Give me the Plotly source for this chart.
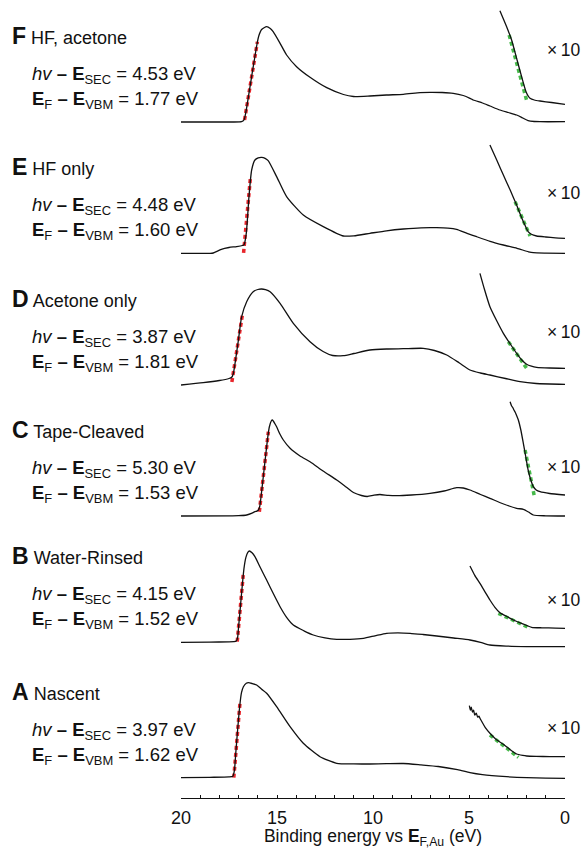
import plotly.graph_objects as go

# Photon energy of the He I source (eV); E_SEC = HV - (hv - E_SEC)
HV = 21.22

# Panel identity, bottom to top
letters = ["A", "B", "C", "D", "E", "F"]
names = ["Nascent", "Water-Rinsed", "Tape-Cleaved", "Acetone only", "HF only", "HF, acetone"]
sec_values = [3.97, 4.15, 5.30, 3.87, 4.48, 4.53]   # hv - E_SEC (eV)
vbm_values = [1.62, 1.52, 1.53, 1.81, 1.60, 1.77]   # E_F - E_VBM (eV)

# ---- A: Nascent ----
A_main_E = [20, 18.5, 17.5, 17.3, 17.22, 17.15, 17.05, 16.95, 16.85, 16.75, 16.6, 16.49, 16.3, 16.06, 15.8, 15.54,
            15.02, 14.32, 13.63, 12.76, 11.89, 11.0, 10.16, 9.3, 8.42, 7.5, 6.6, 5.6, 4.95, 4.3, 3.04, 2.0, 1.0, 0]
A_main_I = [0, 0.4, 0.8, 1.5, 7, 24, 48, 70, 85, 91, 94.5, 95, 94.2, 92.7, 88.5, 84.4,
            71, 51, 34.4, 21, 14.4, 13.8, 13.7, 14, 14.2, 12.8, 11.2, 8, 5, 3, 1, 0, -0.4, -0.6]
A_x10_E = [4.98, 4.93, 4.88, 4.82, 4.76, 4.7, 4.62, 4.55, 4.48, 4.43, 4.3, 4.15, 3.91, 3.6, 3.21, 2.85, 2.52, 2.2, 2.0, 1.5, 0.8, 0]
A_x10_I = [72, 67.5, 70.5, 65.5, 67.5, 62.5, 64.5, 60.5, 61.5, 59.4, 55, 50, 44.4, 38.5, 33.4, 28, 23.7, 22.3, 21.7, 21.3, 21.1, 21]
A_vb_fit_E = [3.91, 2.43]
A_vb_fit_I = [42.7, 20.4]
A_sec_top_E, A_sec_top_I, A_sec_bot_I = 16.93, 74.4, 0.0

# ---- B: Water-Rinsed ----
B_main_E = [20, 18.5, 17.5, 17.25, 17.12, 17.05, 17.0, 16.9, 16.8, 16.72, 16.62, 16.52, 16.44, 16.3, 16.15, 15.85,
            15.54, 15.2, 14.84, 14.5, 14.15, 13.6, 13.11, 12.5, 11.89, 11.2, 10.5, 9.9, 9.29, 8.7, 8.07, 7.4, 6.68,
            5.8, 4.95, 4.4, 3.91, 3.0, 2.0, 1.0, 0]
B_main_I = [0, 0.2, 0.4, 0.6, 1.2, 5, 15.6, 37, 58.6, 74, 85, 90, 91.3, 89.5, 85.6, 74,
            62.3, 49, 35.6, 25, 17.3, 11.5, 7.3, 4.5, 3, 3, 4, 6.5, 9, 9.5, 9, 7.8, 6.3,
            4.3, 2.3, 0, -2.7, -3.8, -4.3, -4.4, -4.4]
B_x10_E = [4.95, 4.7, 4.43, 4.15, 3.91, 3.65, 3.39, 3.0, 2.69, 2.2, 1.74, 1.2, 0.5, 0]
B_x10_I = [76.3, 67, 59, 50, 42.3, 35, 29.6, 25.5, 22.3, 18.5, 15, 14.5, 14.2, 14]
B_vb_fit_E = [3.47, 1.82]
B_vb_fit_I = [29, 14]
B_sec_top_E, B_sec_top_I, B_sec_bot_I = 16.76, 67.3, 0.6

# ---- C: Tape-Cleaved ----
C_main_E = [20, 17, 16.58, 16.3, 16.15, 16.05, 15.97, 15.9, 15.8, 15.71, 15.6, 15.49, 15.4, 15.3, 15.24, 15.1,
            15.02, 14.85, 14.67, 14.32, 13.8, 13.28, 12.6, 11.89, 11.4, 11.02, 10.6, 10.3, 9.95, 9.64, 9.2, 8.77,
            8.0, 7.03, 6.3, 5.64, 5.3, 4.95, 4.4, 3.91, 3.2, 2.52, 2.17, 1.9, 1.65, 1.0, 0]
C_main_I = [0, 0.3, 1, 2.8, 4.3, 4.8, 6, 9.5, 24.7, 40, 59, 77.5, 89, 95, 96, 92,
            89.3, 82, 76, 67.7, 60, 54.3, 45, 36, 29, 23.5, 20.5, 19.5, 20.8, 21.5, 20.6, 20.3,
            21, 22.7, 25, 28.3, 28, 26, 21.5, 17.7, 12, 7.7, 6.7, 4, 1, 0.2, 0]
C_x10_E = [2.86, 2.78, 2.72, 2.66, 2.6, 2.5, 2.43, 2.3, 2.17, 2.05, 1.92, 1.78, 1.65, 1.5, 1.3, 0.8, 0]
C_x10_I = [114.3, 110, 108.5, 106, 104, 99.5, 96, 86, 72.7, 60, 46, 36, 29.3, 26, 24.3, 22.5, 21]
C_vb_fit_E = [2.08, 1.6]
C_vb_fit_I = [66, 20]
C_sec_top_E, C_sec_top_I, C_sec_bot_I = 15.45, 84.3, 4.3

# ---- D: Acetone only ----
D_main_E = [20, 18.84, 18, 17.5, 17.36, 17.28, 17.19, 17.01, 16.84, 16.58, 16.24, 16.0, 15.8, 15.6, 15.36, 14.84,
            14.15, 13.28, 12.6, 12.1, 11.55, 11.0, 10.16, 9.3, 8.42, 7.38, 6.8, 6.16, 5.5, 4.95, 4.4, 3.91, 3.1, 2.34, 1.5, 0]
D_main_I = [0, 2.3, 4.5, 6.5, 7.7, 11, 21, 45, 68.3, 83.3, 93.3, 95.5, 96, 95.3, 93.3, 81.7,
            61.7, 43.3, 33.5, 29.5, 29.3, 31.5, 35, 36, 36.3, 36.7, 34.5, 30, 22, 15, 12, 10, 6.5, 3.3, 1.5, 0.7]
D_x10_E = [4.43, 4.2, 3.91, 3.55, 3.21, 2.85, 2.52, 2.25, 2.0, 1.75, 1.48, 0.8, 0]
D_x10_I = [111.7, 96, 78.3, 64, 51.7, 41, 31.7, 25, 20.7, 18.8, 17.7, 17, 16.7]
D_vb_fit_E = [2.95, 2.0]
D_vb_fit_I = [43.3, 16.7]
D_sec_top_E, D_sec_top_I, D_sec_bot_I = 16.79, 71.7, 3.0

# ---- E: HF only ----
E_main_E = [20, 18.5, 18.32, 17.9, 17.5, 17.1, 16.8, 16.72, 16.6, 16.46, 16.32, 16.15, 15.98, 15.8, 15.62, 15.46,
            15.02, 14.5, 13.63, 12.59, 11.54, 11.0, 10.16, 9.3, 8.42, 7.5, 6.69, 6.1, 5.65, 5.1, 4.6, 3.9, 3.21,
            2.5, 1.9, 1.65, 1.0, 0]
E_main_I = [0, 0, 0.3, 4, 5.8, 6.7, 7.8, 8.5, 20, 56.7, 83.3, 93.3, 95.5, 96, 95, 92.7,
            76.7, 56.7, 38.3, 26.7, 17.3, 17.5, 20, 22.5, 24.3, 25.5, 25.6, 25.2, 24, 20, 16.6, 12, 8.3,
            5, 1.5, 0.6, 0.2, 0]
E_x10_E = [3.91, 3.55, 3.21, 2.85, 2.52, 2.2, 1.92, 1.75, 1.48, 1.0, 0.5, 0]
E_x10_I = [108.3, 93, 78.3, 63, 48.3, 33, 21.6, 19, 17.3, 16.3, 15.5, 15]
E_vb_fit_E = [2.6, 1.82]
E_vb_fit_I = [51.6, 17.3]
E_sec_top_E, E_sec_top_I, E_sec_bot_I = 16.38, 76.6, 0.5

# ---- F: HF, acetone ----
F_main_E = [20, 17.5, 16.85, 16.72, 16.62, 16.45, 16.3, 16.15, 16.05, 15.95, 15.8, 15.54, 15.35, 15.2, 14.84, 14.5,
            13.98, 13.28, 12.41, 11.54, 11.02, 10.16, 9.3, 8.42, 7.55, 7.03, 6.4, 5.82, 5.3, 4.95, 4.78, 4.3, 3.91,
            3.39, 2.95, 2.52, 2.2, 1.92, 1.6, 1.3, 0]
F_main_I = [0, 0, 0.3, 2, 10, 30, 48, 65.5, 77, 86, 92.5, 95.3, 93.5, 90.3, 78.7, 67,
            55.3, 44.7, 34.3, 27.5, 25.5, 26, 27, 27.7, 29.3, 29.7, 29.5, 28.7, 26.5, 23.7, 22, 19, 16,
            12, 9.5, 7, 4, 1.3, 0.5, 0.3, 0.3]
F_x10_E = [3.39, 3.04, 2.78, 2.52, 2.26, 2.03, 1.9, 1.82, 1.6, 1.3, 0.7, 0]
F_x10_I = [111.3, 95.3, 82, 63.7, 45.3, 30.3, 25.5, 23.7, 22, 21, 19.5, 17.7]
F_vb_fit_E = [2.91, 1.98]
F_vb_fit_I = [87, 20.3]
F_sec_top_E, F_sec_top_I, F_sec_bot_I = 16.02, 80.3, 2.0

main_E = [A_main_E, B_main_E, C_main_E, D_main_E, E_main_E, F_main_E]
main_I = [A_main_I, B_main_I, C_main_I, D_main_I, E_main_I, F_main_I]
x10_E = [A_x10_E, B_x10_E, C_x10_E, D_x10_E, E_x10_E, F_x10_E]
x10_I = [A_x10_I, B_x10_I, C_x10_I, D_x10_I, E_x10_I, F_x10_I]
vb_fit_E = [A_vb_fit_E, B_vb_fit_E, C_vb_fit_E, D_vb_fit_E, E_vb_fit_E, F_vb_fit_E]
vb_fit_I = [A_vb_fit_I, B_vb_fit_I, C_vb_fit_I, D_vb_fit_I, E_vb_fit_I, F_vb_fit_I]
sec_top_E = [A_sec_top_E, B_sec_top_E, C_sec_top_E, D_sec_top_E, E_sec_top_E, F_sec_top_E]
sec_top_I = [A_sec_top_I, B_sec_top_I, C_sec_top_I, D_sec_top_I, E_sec_top_I, F_sec_top_I]
sec_bot_I = [A_sec_bot_I, B_sec_bot_I, C_sec_bot_I, D_sec_bot_I, E_sec_bot_I, F_sec_bot_I]

# ---- layout: vertical stacking of the spectra and label placement ----
W, H = 581, 849
ML, MR, MT, MB = 181, 16, 0, 51
plot_w = W - ML - MR
plot_h = H - MT - MB
stack_offset = [20.3, 155.7, 282, 413, 544.7, 676]
x10_label_dy = [49.4, 42, 49, 53, 60, 72]
title_dy, sec_dy, vbm_dy = 86, 47, 22

FONT = "Liberation Sans, Arial, Helvetica, sans-serif"
INK = "#111111"
RED = "#e8262c"
GREEN = "#46b94a"

fig = go.Figure()

for k in range(6):
    off = stack_offset[k]
    # linear fit of the secondary-electron cutoff
    sec_E = [HV - sec_values[k], sec_top_E[k]]
    sec_I = [sec_bot_I[k], sec_top_I[k]]
    fig.add_trace(go.Scatter(x=sec_E, y=[v + off for v in sec_I], mode="lines",
                             line=dict(color=RED, width=3.5, dash="4px,3px"), hoverinfo="skip"))
    # linear fit of the valence-band onset
    fig.add_trace(go.Scatter(x=vb_fit_E[k], y=[v + off for v in vb_fit_I[k]], mode="lines",
                             line=dict(color=GREEN, width=3.5, dash="4px,3px"), hoverinfo="skip"))
    # full UPS spectrum
    fig.add_trace(go.Scatter(x=main_E[k], y=[v + off for v in main_I[k]], mode="lines",
                             line=dict(color=INK, width=1.3, shape="spline", smoothing=0.6), hoverinfo="skip"))
    # valence-band region magnified x10
    fig.add_trace(go.Scatter(x=x10_E[k], y=[v + off for v in x10_I[k]], mode="lines",
                             line=dict(color=INK, width=1.3, shape="spline", smoothing=0.5), hoverinfo="skip"))


def px_to_paper(px):
    return (px - ML) / plot_w


annotations = []
for k in range(6):
    off = stack_offset[k]
    annotations.append(dict(
        x=px_to_paper(10), xref="paper", y=off + title_dy, yref="y", xanchor="left", yanchor="middle",
        text=f"<span style='font-size:23px'><b>{letters[k]}</b></span> {names[k]}",
        showarrow=False, font=dict(family=FONT, size=18, color=INK)))
    annotations.append(dict(
        x=px_to_paper(30), xref="paper", y=off + sec_dy, yref="y", xanchor="left", yanchor="middle",
        text=f"<i>hv</i> <b>–</b> <b>E</b><sub>SEC</sub> = {sec_values[k]:.2f} eV",
        showarrow=False, font=dict(family=FONT, size=18.5, color=INK)))
    annotations.append(dict(
        x=px_to_paper(30), xref="paper", y=off + vbm_dy, yref="y", xanchor="left", yanchor="middle",
        text=f"<b>E</b><sub>F</sub> <b>–</b> <b>E</b><sub>VBM</sub> = {vbm_values[k]:.2f} eV",
        showarrow=False, font=dict(family=FONT, size=18.5, color=INK)))
    annotations.append(dict(
        x=px_to_paper(545), xref="paper", y=off + x10_label_dy[k], yref="y", xanchor="left", yanchor="middle",
        text="×\u200910", showarrow=False, font=dict(family=FONT, size=17.5, color=INK)))

fig.update_layout(
    width=W, height=H,
    margin=dict(l=ML, r=MR, t=MT, b=MB, pad=0, autoexpand=False),
    paper_bgcolor="white", plot_bgcolor="white",
    showlegend=False,
    font=dict(family=FONT, color=INK),
    annotations=annotations,
    xaxis=dict(
        range=[20, 0], showgrid=False, zeroline=False, automargin=False,
        showline=True, linecolor=INK, linewidth=1,
        tickmode="array", tickvals=[0, 5, 10, 15, 20], ticktext=["0", "5", "10", "15", "20"],
        ticks="inside", ticklen=3, tickwidth=1, tickcolor=INK,
        minor=dict(dtick=1, ticks="inside", ticklen=3, tickwidth=1, tickcolor=INK),
        tickfont=dict(family=FONT, size=18, color=INK),
        ticklabelstandoff=3,
        title=dict(text="Binding energy vs <b>E</b><sub>F,Au</sub> (eV)",
                   font=dict(family=FONT, size=17.5, color=INK), standoff=15),
        fixedrange=True,
    ),
    yaxis=dict(range=[0, plot_h], visible=False, fixedrange=True, automargin=False),
)

fig.write_html("out.html")
